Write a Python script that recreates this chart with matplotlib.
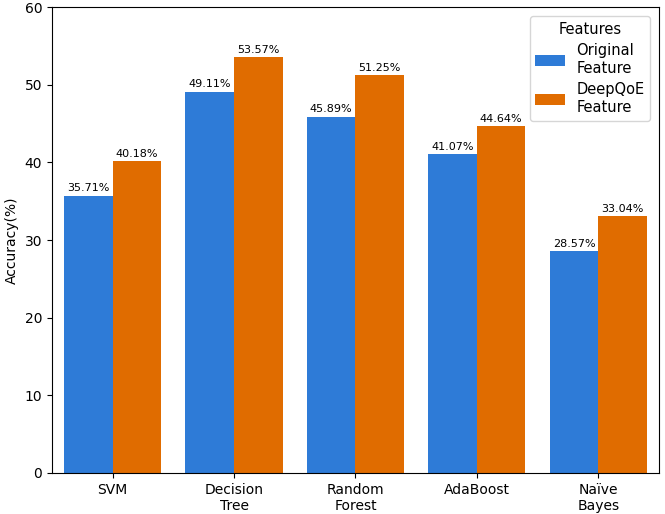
import matplotlib
matplotlib.use("Agg")
import matplotlib.pyplot as plt
import numpy as np

models = ["SVM", "Decision\nTree", "Random\nForest", "AdaBoost", "Naïve\nBayes"]
original = [35.71, 49.11, 45.89, 41.07, 28.57]
deepqoe = [40.18, 53.57, 51.25, 44.64, 33.04]
series_names = ["Original\nFeature", "DeepQoE\nFeature"]

BLUE = "#2e7bd7"
ORANGE = "#e06c00"

fig = plt.figure(figsize=(6.65, 5.14), dpi=100)
ax = fig.add_axes([0.078, 0.080, 0.913, 0.906])

x = np.arange(len(models))
w = 0.4
b1 = ax.bar(x - w/2, original, w, color=BLUE, label=series_names[0])
b2 = ax.bar(x + w/2, deepqoe, w, color=ORANGE, label=series_names[1])

for bars in (b1, b2):
    for b in bars:
        ax.text(b.get_x() + b.get_width()/2, b.get_height() + 0.3,
                f"{b.get_height():.2f}%", ha="center", va="bottom", fontsize=8)

ax.set_xlim(-0.5, len(models) - 0.5)
ax.set_ylim(0, 60)
ax.set_xticks(x)
ax.set_xticklabels(models, fontsize=10)
ax.set_yticks(range(0, 61, 10))
ax.tick_params(labelsize=10)
ax.set_ylabel("Accuracy(%)", fontsize=10)

ax.legend(title="Features", fontsize=10.5, title_fontsize=10.5,
          loc="upper right", borderaxespad=0.6, labelspacing=0.45)

fig.savefig("out.png", dpi=100)
